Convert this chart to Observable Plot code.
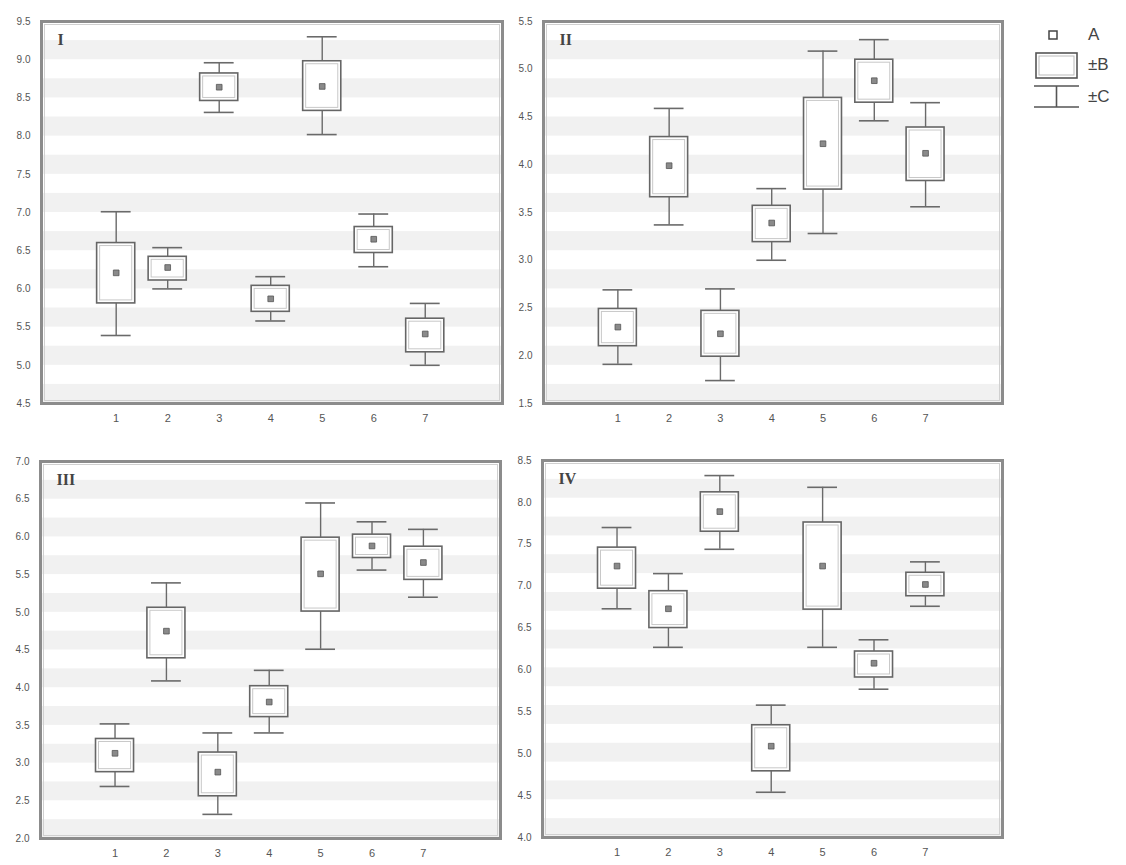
<!DOCTYPE html>
<html>
<head>
<meta charset="utf-8">
<script src="https://cdn.jsdelivr.net/npm/d3@7"></script>
<script src="https://cdn.jsdelivr.net/npm/@observablehq/plot@0.6"></script>
<style>
  html, body { margin: 0; padding: 0; background: #fff; }
  #root { position: relative; width: 1126px; height: 865px; overflow: hidden; }
  .panel { position: absolute; }
  #legend { position: absolute; left: 1026px; top: 22px; }
</style>
</head>
<body>
<div id="root"></div>
<script>
// ---------- data ----------
const categories = [1, 2, 3, 4, 5, 6, 7];

// Panel I
const p1Mean   = [6.21, 6.28, 8.64, 5.87, 8.65, 6.65, 5.41];
const p1BoxLo  = [5.81, 6.11, 8.46, 5.70, 8.33, 6.47, 5.17];
const p1BoxHi  = [6.60, 6.42, 8.82, 6.04, 8.98, 6.81, 5.61];
const p1WhLo   = [5.39, 6.00, 8.31, 5.58, 8.02, 6.29, 5.00];
const p1WhHi   = [7.01, 6.54, 8.96, 6.16, 9.30, 6.98, 5.81];
const p1Ticks  = [4.5, 5.0, 5.5, 6.0, 6.5, 7.0, 7.5, 8.0, 8.5, 9.0, 9.5];

// Panel II
const p2Mean   = [2.30, 3.99, 2.23, 3.39, 4.22, 4.88, 4.12];
const p2BoxLo  = [2.10, 3.66, 1.99, 3.19, 3.74, 4.65, 3.83];
const p2BoxHi  = [2.49, 4.29, 2.47, 3.57, 4.70, 5.10, 4.39];
const p2WhLo   = [1.91, 3.37, 1.74, 3.00, 3.28, 4.46, 3.56];
const p2WhHi   = [2.69, 4.59, 2.70, 3.75, 5.19, 5.31, 4.65];
const p2Ticks  = [1.5, 2.0, 2.5, 3.0, 3.5, 4.0, 4.5, 5.0, 5.5];

// Panel III
const p3Mean   = [3.13, 4.75, 2.88, 3.81, 5.51, 5.88, 5.66];
const p3BoxLo  = [2.88, 4.39, 2.56, 3.61, 5.01, 5.72, 5.43];
const p3BoxHi  = [3.32, 5.06, 3.14, 4.02, 5.99, 6.03, 5.87];
const p3WhLo   = [2.69, 4.09, 2.32, 3.40, 4.51, 5.56, 5.20];
const p3WhHi   = [3.52, 5.39, 3.40, 4.23, 6.45, 6.20, 6.10];
const p3Ticks  = [2.0, 2.5, 3.0, 3.5, 4.0, 4.5, 5.0, 5.5, 6.0, 6.5, 7.0];

// Panel IV
const p4Mean   = [7.24, 6.73, 7.89, 5.09, 7.24, 6.08, 7.02];
const p4BoxLo  = [6.97, 6.50, 7.65, 4.79, 6.72, 5.91, 6.88];
const p4BoxHi  = [7.46, 6.94, 8.12, 5.34, 7.76, 6.22, 7.16];
const p4WhLo   = [6.73, 6.27, 7.44, 4.54, 6.27, 5.77, 6.76];
const p4WhHi   = [7.70, 7.15, 8.32, 5.58, 8.18, 6.36, 7.29];
const p4Ticks  = [4.0, 4.5, 5.0, 5.5, 6.0, 6.5, 7.0, 7.5, 8.0, 8.5];

const panelLabels = ["I", "II", "III", "IV"];
const legendLabels = ["A", "±B", "±C"];

// ---------- drawing ----------
const xDomain = [-0.45, 8.5];
const boxHalf = 0.37;
const capHalf = 0.29;
const stripeIndex = d3.range(10);

function panel(label, mean, boxLo, boxHi, whLo, whHi, ticks, layout) {
  const rows = categories.map((c, i) => ({
    c, mean: mean[i], boxLo: boxLo[i], boxHi: boxHi[i], whLo: whLo[i], whHi: whHi[i]
  }));
  const yLo = ticks[0], yHi = ticks[ticks.length - 1];
  const span = yHi - yLo;
  const stripes = stripeIndex.map(k => ({
    y1: yHi - span * (k * 0.1 + 0.05),
    y2: yHi - span * (k * 0.1 + 0.10)
  }));
  const chart = Plot.plot({
    width: 520,
    height: 430,
    marginLeft: layout.ml,
    marginRight: layout.mr,
    marginTop: layout.mt,
    marginBottom: layout.mb,
    x: { domain: xDomain, label: null },
    y: { domain: [yLo, yHi], label: null },
    style: { background: "transparent" },
    marks: [
      Plot.rect(stripes, { x1: xDomain[0], x2: xDomain[1], y1: "y1", y2: "y2", fill: "#f1f1f1" }),
      Plot.ruleX(rows, { x: "c", y1: "whLo", y2: "whHi", stroke: "#6a6a6a", strokeWidth: 1.4 }),
      Plot.ruleY(rows, { y: "whHi", x1: d => d.c - capHalf, x2: d => d.c + capHalf, stroke: "#6a6a6a", strokeWidth: 1.6 }),
      Plot.ruleY(rows, { y: "whLo", x1: d => d.c - capHalf, x2: d => d.c + capHalf, stroke: "#6a6a6a", strokeWidth: 1.6 }),
      Plot.rect(rows, { x1: d => d.c - boxHalf, x2: d => d.c + boxHalf, y1: "boxLo", y2: "boxHi",
        fill: "#fff", stroke: "#666", strokeWidth: 1.6, inset: 0 }),
      Plot.rect(rows, { x1: d => d.c - boxHalf, x2: d => d.c + boxHalf, y1: "boxLo", y2: "boxHi",
        fill: "none", stroke: "#c8c8c8", strokeWidth: 1, inset: 3 }),
      Plot.dot(rows, { x: "c", y: "mean", symbol: "square", r: 3.2, fill: "#8a8a8a", stroke: "#555", strokeWidth: 0.8 }),
      Plot.frame({ stroke: "#8c8c8c", strokeWidth: 3 }),
      Plot.frame({ stroke: "#d0d0d0", strokeWidth: 1, inset: 3 }),
      Plot.axisY({ ticks, tickSize: 0, tickPadding: 11, tickFormat: d3.format(".1f"),
        fontSize: 10, fontFamily: "Liberation Sans, Arial, sans-serif", fill: "#555" }),
      Plot.axisX({ ticks: categories, tickSize: 0, tickPadding: 11, tickFormat: d => String(d),
        fontSize: 11, fontFamily: "Liberation Sans, Arial, sans-serif", fill: "#555" }),
      Plot.text([label], { frameAnchor: "top-left", dx: 16, dy: 12, text: d => d,
        fontSize: 16, fontWeight: "bold", fontFamily: "Liberation Serif, Times New Roman, serif", fill: "#444" })
    ]
  });
  const wrap = document.createElement("div");
  wrap.className = "panel";
  wrap.style.left = layout.left + "px";
  wrap.style.top = layout.top + "px";
  wrap.appendChild(chart);
  document.getElementById("root").appendChild(wrap);
}

panel(panelLabels[0], p1Mean, p1BoxLo, p1BoxHi, p1WhLo, p1WhHi, p1Ticks, { left: 0,   top: 0,   ml: 41, mr: 18, mt: 21, mb: 27 });
panel(panelLabels[1], p2Mean, p2BoxLo, p2BoxHi, p2WhLo, p2WhHi, p2Ticks, { left: 500, top: 0,   ml: 43, mr: 18, mt: 21, mb: 27 });
panel(panelLabels[2], p3Mean, p3BoxLo, p3BoxHi, p3WhLo, p3WhHi, p3Ticks, { left: 0,   top: 440, ml: 40, mr: 20, mt: 21, mb: 32 });
panel(panelLabels[3], p4Mean, p4BoxLo, p4BoxHi, p4WhLo, p4WhHi, p4Ticks, { left: 500, top: 440, ml: 42, mr: 18, mt: 20, mb: 33 });

// ---------- legend ----------
const ns = "http://www.w3.org/2000/svg";
const leg = document.createElementNS(ns, "svg");
leg.setAttribute("id", "legend");
leg.setAttribute("width", 100);
leg.setAttribute("height", 95);
function el(tag, attrs) {
  const e = document.createElementNS(ns, tag);
  for (const k in attrs) e.setAttribute(k, attrs[k]);
  leg.appendChild(e);
  return e;
}
el("rect", { x: 23, y: 9, width: 8, height: 8, fill: "#fff", stroke: "#444", "stroke-width": 1.5 });
el("rect", { x: 10, y: 31, width: 41, height: 25, fill: "#fff", stroke: "#555", "stroke-width": 1.6 });
el("rect", { x: 13, y: 34, width: 35, height: 19, fill: "none", stroke: "#bbb", "stroke-width": 1 });
el("line", { x1: 8, x2: 53, y1: 64, y2: 64, stroke: "#555", "stroke-width": 1.6 });
el("line", { x1: 8, x2: 53, y1: 85, y2: 85, stroke: "#555", "stroke-width": 1.6 });
el("line", { x1: 30.5, x2: 30.5, y1: 64, y2: 85, stroke: "#555", "stroke-width": 1.6 });
const ly = [18, 48, 80];
legendLabels.forEach((t, i) => {
  const tx = el("text", { x: 62, y: ly[i], "font-size": 17, "font-family": "Liberation Sans, Arial, sans-serif", fill: "#444" });
  tx.textContent = t;
});
document.getElementById("root").appendChild(leg);
</script>
</body>
</html>
